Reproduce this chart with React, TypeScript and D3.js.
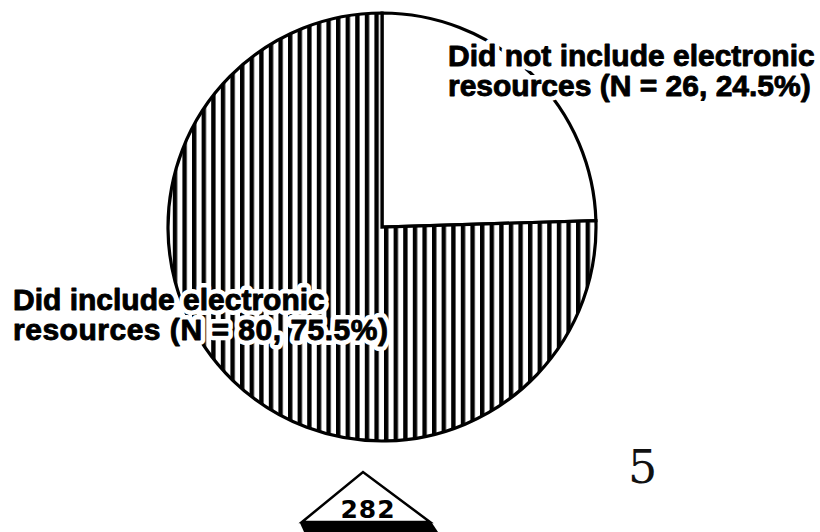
import React, { useEffect, useRef } from "react";
import * as d3 from "d3";

// survey split: syllabi that did / did not include electronic resources
const categories = ["Did not include electronic", "Did include electronic"];
const counts = [26, 80];
const percents = [24.5, 75.5];
const pageNumber = "5";
const stampNumber = "282";

const width = 820;
const height = 532;

export default function App() {
  const ref = useRef<SVGSVGElement | null>(null);

  useEffect(() => {
    const root = d3.select(ref.current);
    root.selectAll("*").remove();
    root.attr("width", width).attr("height", height);

    const cx = 382;
    const cy = 227;
    const r = 214;

    // vertical hatch
    const defs = root.append("defs");
    const pat = defs
      .append("pattern")
      .attr("id", "vhatch")
      .attr("patternUnits", "userSpaceOnUse")
      .attr("x", 2)
      .attr("y", 0)
      .attr("width", 9.6)
      .attr("height", 10);
    pat.append("rect").attr("width", 9.6).attr("height", 10).attr("fill", "#fff");
    pat.append("rect").attr("width", 4.4).attr("height", 10).attr("fill", "#000");

    const pie = d3
      .pie<number>()
      .sort(null)
      .value((d) => d);
    const arcs = pie(counts);
    const arc = d3.arc<d3.PieArcDatum<number>>().innerRadius(0).outerRadius(r);

    const g = root.append("g").attr("transform", `translate(${cx},${cy})`);

    g.selectAll("path.slice")
      .data(arcs)
      .enter()
      .append("path")
      .attr("class", "slice")
      .attr("d", arc)
      .attr("fill", (d, i) => (i === 0 ? "#fff" : "url(#vhatch)"))
      .attr("stroke", "#000")
      .attr("stroke-width", 3.2)
      .attr("stroke-linejoin", "miter");

    // labels, white halo knocks out lines behind them
    const labels = categories.map((c, i) => [
      c,
      `resources (N = ${counts[i]}, ${percents[i]}%)`,
    ]);
    const labelPos = [
      { x: 448, y: 66 },
      { x: 13, y: 310 },
    ];
    const lineH = 30;

    const drawLabel = (lines: string[], i: number, halo: boolean) => {
      const t = root
        .append("text")
        .attr("x", labelPos[i].x)
        .attr("y", labelPos[i].y)
        .style("font-family", "'Liberation Sans', Arial, sans-serif")
        .style("font-weight", "bold")
        .style("font-size", "30px")
        .attr("fill", "#000")
        .attr("stroke", halo ? "#fff" : "#000")
        .attr("stroke-width", halo ? 10 : 0.9)
        .attr("stroke-linejoin", "round");
      lines.forEach((l, j) => {
        t.append("tspan")
          .attr("x", labelPos[i].x)
          .attr("dy", j === 0 ? 0 : lineH)
          .attr("textLength", j === 1 && i === 1 ? 375 : null)
          .text(l);
      });
    };
    labels.forEach((lines, i) => drawLabel(lines, i, true));
    labels.forEach((lines, i) => drawLabel(lines, i, false));

    // page number
    root
      .append("text")
      .attr("x", 628)
      .attr("y", 483)
      .style("font-family", "'DejaVu Serif', 'Liberation Serif', serif")
      .style("font-size", "46px")
      .attr("fill", "#111")
      .text(pageNumber);

    // scanned stamp triangle
    const stamp = root.append("g");
    stamp
      .append("path")
      .attr("d", "M302,522 L363,472 L430,522 Z")
      .attr("fill", "#fff")
      .attr("stroke", "#000")
      .attr("stroke-width", 2.5);
    stamp
      .append("path")
      .attr("d", "M300,523 Q366,519 432,523 L438,532 L304,532 Z")
      .attr("fill", "#000");
    stamp
      .append("text")
      .attr("x", 368)
      .attr("y", 518)
      .attr("text-anchor", "middle")
      .attr("letter-spacing", 1)
      .style("font-family", "'DejaVu Sans', sans-serif")
      .style("font-size", "25px")
      .style("font-weight", "bold")
      .attr("fill", "#000")
      .text(stampNumber);
  }, []);

  return (
    <svg
      ref={ref}
      style={{ position: "absolute", left: 0, top: 0, background: "#fff" }}
    ></svg>
  );
}
